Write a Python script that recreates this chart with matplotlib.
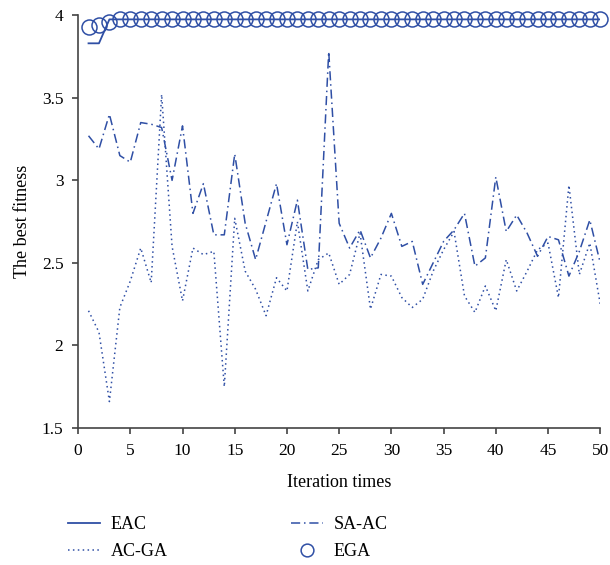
import matplotlib
matplotlib.use('Agg')
import matplotlib.pyplot as plt
from matplotlib.ticker import FuncFormatter

iterations = list(range(1, 51))

eac = [3.83, 3.83, 3.975, 3.975, 3.975, 3.975, 3.975, 3.975, 3.975, 3.975,
       3.975, 3.975, 3.975, 3.975, 3.975, 3.975, 3.975, 3.975, 3.975, 3.975,
       3.975, 3.975, 3.975, 3.975, 3.975, 3.975, 3.975, 3.975, 3.975, 3.975,
       3.975, 3.975, 3.975, 3.975, 3.975, 3.975, 3.975, 3.975, 3.975, 3.975,
       3.975, 3.975, 3.975, 3.975, 3.975, 3.975, 3.975, 3.975, 3.975, 3.975]

ac_ga = [2.21, 2.08, 1.66, 2.23, 2.39, 2.59, 2.38, 3.52, 2.60, 2.27,
         2.59, 2.55, 2.57, 1.75, 2.77, 2.45, 2.34, 2.18, 2.41, 2.33,
         2.75, 2.33, 2.52, 2.56, 2.37, 2.43, 2.68, 2.22, 2.43, 2.42,
         2.29, 2.23, 2.28, 2.45, 2.58, 2.69, 2.30, 2.20, 2.36, 2.21,
         2.52, 2.33, 2.45, 2.58, 2.62, 2.29, 2.97, 2.43, 2.62, 2.25]

sa_ac = [3.27, 3.19, 3.40, 3.15, 3.11, 3.35, 3.34, 3.32, 3.00, 3.33,
         2.80, 2.98, 2.67, 2.67, 3.16, 2.74, 2.52, 2.75, 2.98, 2.61,
         2.88, 2.46, 2.47, 3.78, 2.74, 2.59, 2.70, 2.53, 2.65, 2.80,
         2.60, 2.63, 2.37, 2.50, 2.63, 2.70, 2.80, 2.48, 2.53, 3.02,
         2.69, 2.79, 2.68, 2.54, 2.66, 2.64, 2.42, 2.57, 2.76, 2.50]

ega = [3.93, 3.94, 3.96, 3.975, 3.975, 3.975, 3.975, 3.975, 3.975, 3.975,
       3.975, 3.975, 3.975, 3.975, 3.975, 3.975, 3.975, 3.975, 3.975, 3.975,
       3.975, 3.975, 3.975, 3.975, 3.975, 3.975, 3.975, 3.975, 3.975, 3.975,
       3.975, 3.975, 3.975, 3.975, 3.975, 3.975, 3.975, 3.975, 3.975, 3.975,
       3.975, 3.975, 3.975, 3.975, 3.975, 3.975, 3.975, 3.975, 3.975, 3.975]

x_ticks = [0, 5, 10, 15, 20, 25, 30, 35, 40, 45, 50]
y_ticks = [1.5, 2, 2.5, 3, 3.5, 4]

blue = '#2f4fa5'
plt.rcParams['font.family'] = ['Liberation Serif', 'DejaVu Serif']

fig = plt.figure(figsize=(6.1, 5.65), dpi=100)
ax = fig.add_axes([0.128, 0.2425, 0.856, 0.7305])

ax.plot(iterations, eac, color=blue, lw=1.3, ls='-', label='EAC')
ax.plot(iterations, ac_ga, color=blue, lw=1.1, ls=(0, (1, 2.2)), label='AC-GA')
ax.plot(iterations, sa_ac, color=blue, lw=1.1, ls=(0, (6, 2.5, 1, 2.5)), label='SA-AC')
ax.plot(iterations, ega, color=blue, ls='none', marker='o', ms=10.8, mfc='none',
        mec=blue, mew=1.1, clip_on=False, label='EGA')

ax.set_xlim(0, 50)
ax.set_ylim(1.5, 4)
ax.set_xticks(x_ticks)
ax.set_yticks(y_ticks)
ax.yaxis.set_major_formatter(FuncFormatter(lambda v, p: '{:g}'.format(v)))
ax.tick_params(labelsize=12.5, length=4.5, width=1.1, color='#333333', pad=6)
for side in ['top', 'right']:
    ax.spines[side].set_visible(False)
for side in ['left', 'bottom']:
    ax.spines[side].set_color('#444444')
    ax.spines[side].set_linewidth(1.2)

ax.set_xlabel('Iteration times', fontsize=13, labelpad=11)
ax.set_ylabel('The best fitness', fontsize=13, labelpad=8)

fig.legend(loc='upper left', bbox_to_anchor=(68 / 610, 1 - 516 / 565), ncol=2,
           frameon=False, fontsize=13, borderpad=0, borderaxespad=0,
           handlelength=1.75, handletextpad=0.6, columnspacing=6.85,
           labelspacing=0.55, markerscale=0.85)

fig.savefig('out.png', dpi=100)
plt.close(fig)
